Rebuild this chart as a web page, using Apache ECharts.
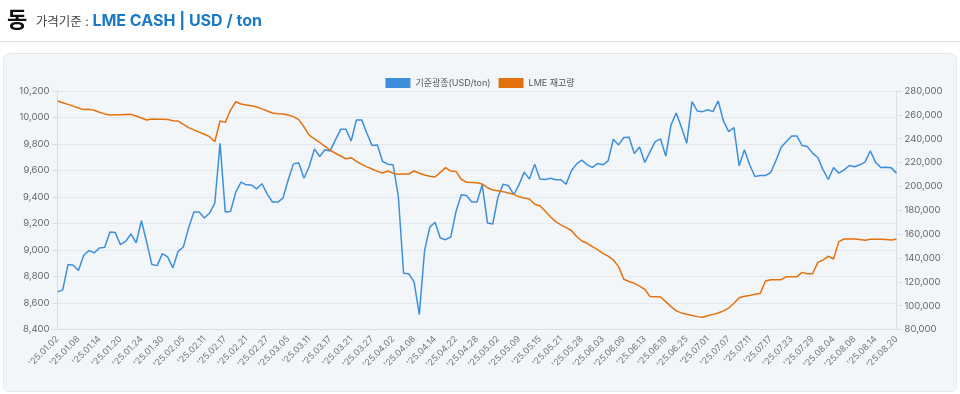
<!DOCTYPE html>
<html>
<head>
<meta charset="utf-8">
<script src="https://cdn.jsdelivr.net/npm/echarts@6/dist/echarts.min.js"></script>
<style>
html,body{margin:0;padding:0;background:#fff;}
#c{width:960px;height:394px;}
</style>
</head>
<body>
<div id="c"></div>
<script>
const dates = [
"'25.01.02","'25.01.03","'25.01.06","'25.01.07","'25.01.08","'25.01.09","'25.01.10","'25.01.13","'25.01.14","'25.01.15","'25.01.16","'25.01.17","'25.01.20","'25.01.21","'25.01.22","'25.01.23","'25.01.24","'25.01.27","'25.01.28","'25.01.29","'25.01.30","'25.01.31",
"'25.02.03","'25.02.04","'25.02.05","'25.02.06","'25.02.07","'25.02.10","'25.02.11","'25.02.12","'25.02.13","'25.02.14","'25.02.17","'25.02.18","'25.02.19","'25.02.20","'25.02.21","'25.02.24","'25.02.25","'25.02.26","'25.02.27","'25.02.28",
"'25.03.03","'25.03.04","'25.03.05","'25.03.06","'25.03.07","'25.03.10","'25.03.11","'25.03.12","'25.03.13","'25.03.14","'25.03.17","'25.03.18","'25.03.19","'25.03.20","'25.03.21","'25.03.24","'25.03.25","'25.03.26","'25.03.27","'25.03.28","'25.03.31",
"'25.04.01","'25.04.02","'25.04.03","'25.04.04","'25.04.07","'25.04.08","'25.04.09","'25.04.10","'25.04.11","'25.04.14","'25.04.15","'25.04.16","'25.04.17","'25.04.22","'25.04.23","'25.04.24","'25.04.25","'25.04.28","'25.04.29","'25.04.30",
"'25.05.01","'25.05.02","'25.05.06","'25.05.07","'25.05.08","'25.05.09","'25.05.12","'25.05.13","'25.05.14","'25.05.15","'25.05.16","'25.05.19","'25.05.20","'25.05.21","'25.05.22","'25.05.23","'25.05.27","'25.05.28","'25.05.29","'25.05.30",
"'25.06.02","'25.06.03","'25.06.04","'25.06.05","'25.06.06","'25.06.09","'25.06.10","'25.06.11","'25.06.12","'25.06.13","'25.06.16","'25.06.17","'25.06.18","'25.06.19","'25.06.20","'25.06.23","'25.06.24","'25.06.25","'25.06.26","'25.06.27","'25.06.30",
"'25.07.01","'25.07.02","'25.07.03","'25.07.04","'25.07.07","'25.07.08","'25.07.09","'25.07.10","'25.07.11","'25.07.14","'25.07.15","'25.07.16","'25.07.17","'25.07.18","'25.07.21","'25.07.22","'25.07.23","'25.07.24","'25.07.25","'25.07.28","'25.07.29","'25.07.30","'25.07.31",
"'25.08.01","'25.08.04","'25.08.05","'25.08.06","'25.08.07","'25.08.08","'25.08.11","'25.08.12","'25.08.13","'25.08.14","'25.08.15","'25.08.18","'25.08.19","'25.08.20"
];

const priceUSD = [
8684,8699,8890,8885,8845,8960,8995,8978,9015,9020,9136,9133,9040,9065,9121,9053,9221,9060,8890,8882,
8973,8948,8865,8990,9023,9166,9286,9286,9241,9279,9354,9806,9286,9291,9437,9512,9492,9490,9462,9500,
9422,9362,9362,9392,9530,9650,9658,9542,9630,9763,9706,9756,9748,9831,9911,9911,9823,9982,9982,9881,
9788,9793,9668,9648,9643,9404,8825,8820,8759,8513,8995,9173,9209,9091,9078,9098,9291,9417,9412,9362,
9362,9492,9204,9196,9400,9497,9485,9417,9492,9588,9535,9648,9535,9532,9542,9530,9530,9497,9598,9650,
9678,9643,9623,9653,9643,9673,9836,9793,9849,9851,9728,9778,9660,9743,9818,9839,9708,9944,10034,9924,
9806,10120,10049,10044,10059,10044,10125,9974,9894,9924,9635,9756,9643,9555,9562,9562,9585,9673,9776,9818,
9861,9861,9788,9781,9731,9698,9605,9532,9623,9580,9605,9638,9628,9643,9663,9748,9663,9623,9625,9620,
9580
];

const lmeStock = [
271600,270200,268800,267300,265800,264400,264600,263800,262200,260800,259900,260000,260100,260300,260400,259000,257400,255700,256500,256400,
256300,256200,255100,254800,252000,249300,247400,245500,243700,241700,237500,254800,253700,264000,271000,269100,268200,267700,266600,265000,
263200,261500,260900,260700,259900,258500,256000,250000,243000,239800,237000,233500,230500,227800,225500,223200,224100,221000,218500,216400,
214600,212600,211300,212900,211000,210100,210300,210400,212900,211000,209600,208500,207900,211800,215700,212900,212400,206000,203400,203200,
203000,202000,198900,197000,196300,195600,194500,193300,191400,190200,189400,185000,183800,179400,174600,170500,167800,165500,163000,158000,
154200,152300,149500,147000,143900,141500,138300,132700,122100,120200,118700,116300,113700,107600,107500,107300,103400,99200,95600,93900,
92800,91800,90800,90200,91500,92700,93800,95600,98000,102000,106700,107800,108500,109500,110100,120700,121800,121800,121800,124300,
124300,124300,127900,126800,126800,136300,138300,141400,139100,153700,155900,155900,155900,155400,154800,155600,155600,155600,155400,155100,
155900
];

const seriesNames = ['기준광종(USD/ton)', 'LME 재고량'];

const font = 'Inter, "Noto Sans CJK KR", "Noto Sans", sans-serif';
const fmt = v => v.toLocaleString('en-US');

const chart = echarts.init(document.getElementById('c'), null, {renderer: 'canvas'});
chart.setOption({
  animation: false,
  backgroundColor: '#ffffff',
  textStyle: {fontFamily: font},
  title: {
    left: 2, top: 4,
    text: '{a|동}  {b|가격기준 : }{c|LME CASH | USD / ton}',
    textStyle: {
      fontFamily: font,
      rich: {
        a: {fontSize: 22, fontWeight: 'bold', color: '#111', fontFamily: font},
        b: {fontSize: 12.5, fontWeight: 'normal', color: '#444', fontFamily: font, padding: [4,0,0,0]},
        c: {fontSize: 16, fontWeight: 'bold', color: '#1a7ac6', fontFamily: font, padding: [3,0,0,0]}
      }
    }
  },
  graphic: [
    {type: 'line', z: -20, shape: {x1: 0, y1: 41.5, x2: 960, y2: 41.5}, style: {stroke: '#dcdcdc', lineWidth: 1}},
    {type: 'rect', z: -20, shape: {x: 3.5, y: 53.5, width: 953, height: 338, r: 6}, style: {fill: '#f3f6f9', stroke: '#e2e7ed', lineWidth: 1}}
  ],
  legend: {
    top: 73, left: 'center',
    icon: 'rect', itemWidth: 25, itemHeight: 10, itemGap: 8,
    textStyle: {fontSize: 9, color: '#555', fontFamily: font},
    data: seriesNames
  },
  grid: {left: 57.5, right: 63.5, top: 91, bottom: 64.5, containLabel: false},
  xAxis: {
    type: 'category', boundaryGap: false, data: dates,
    axisLine: {lineStyle: {color: '#d8dee6'}},
    axisTick: {show: false},
    axisLabel: {interval: 3, rotate: 45, fontSize: 9, color: '#777', margin: 8, fontFamily: font}
  },
  yAxis: [
    {
      type: 'value', min: 8400, max: 10200, interval: 200, position: 'left',
      axisLine: {show: true, lineStyle: {color: '#d8dee6'}},
      axisTick: {show: true, length: 5, lineStyle: {color: '#d8dee6'}},
      axisLabel: {fontSize: 9.5, color: '#666', formatter: fmt, margin: 8, fontFamily: font},
      splitLine: {lineStyle: {color: '#e3e8ee'}}
    },
    {
      type: 'value', min: 80000, max: 280000, interval: 20000, position: 'right',
      axisLine: {show: true, lineStyle: {color: '#d8dee6'}},
      axisTick: {show: true, length: 5, lineStyle: {color: '#d8dee6'}},
      axisLabel: {fontSize: 9.5, color: '#666', formatter: fmt, margin: 8, fontFamily: font},
      splitLine: {show: false}
    }
  ],
  series: [
    {name: seriesNames[0], type: 'line', data: priceUSD, yAxisIndex: 0, symbol: 'none',
     itemStyle: {color: '#3d8fdc'}, lineStyle: {width: 1.5, color: '#3d8fdc'}},
    {name: seriesNames[1], type: 'line', data: lmeStock, yAxisIndex: 1, symbol: 'none',
     itemStyle: {color: '#e3710d'}, lineStyle: {width: 1.5, color: '#e3710d'}}
  ]
});
</script>
</body>
</html>
